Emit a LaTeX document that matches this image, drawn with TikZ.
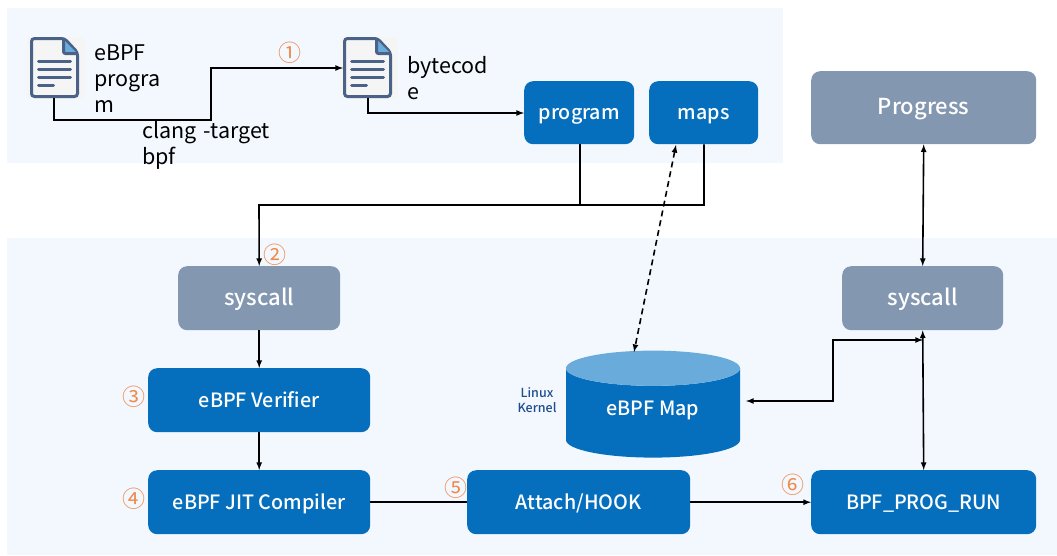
\documentclass[tikz,border=0pt]{standalone}
\usepackage{fontspec}
\setmainfont{Noto Sans CJK SC}
\newfontfamily\medfont{Noto Sans CJK SC Medium}
\usepackage{tikz}
\usetikzlibrary{shapes.geometric}
\definecolor{panelbg}{HTML}{F3F8FF}
\definecolor{boxblue}{HTML}{056FBE}
\definecolor{boxgrey}{HTML}{8497B0}
\definecolor{captop}{HTML}{69ABDB}
\definecolor{numorange}{HTML}{EF8A4C}
\definecolor{kernelblue}{HTML}{1F4E8C}
\definecolor{docline}{HTML}{4A6288}
\tikzset{
    panel/.style={fill=panelbg,draw=none},
    bluebox/.style={fill=boxblue,rounded corners=9pt,text=white,font=\medfont\fontsize{19.7}{22}\selectfont,anchor=north west,inner sep=0pt,text height=14pt,text depth=0pt},
    greybox/.style={bluebox,fill=boxgrey,font=\medfont\fontsize{22}{24}\selectfont},
    wrapped/.style={anchor=north west,align=left,inner sep=0pt,font=\fontsize{21.5}{26}\selectfont},
    stepnum/.style={text=numorange,inner sep=0pt,font=\fontsize{23}{24}\selectfont},
    link/.style={draw=black,line width=1.6pt,>=latex},
    docnode/.style={minimum width=49pt,minimum height=61pt,inner sep=0pt,outer sep=0pt},
    docicon/.pic={
        \fill[black!4] (-28,-31) rectangle (30,31);
        \draw[docline,line width=3pt,fill=black!4,rounded corners=3pt] (-23,-29) -- (10,-29) -- (23,-15) -- (23,29) -- (-23,29) -- cycle;
        \fill[captop] (9,-28) -- (22,-15) -- (9,-15) -- cycle;
        \draw[docline,line width=3pt,rounded corners=2pt] (9,-29) -- (9,-14) -- (23,-14);
        \draw[docline,line width=3pt,line cap=round] (-16,-6) -- (16,-6) (-16,2) -- (16,2) (-16,10) -- (16,10) (-16,18) -- (-1,18);
    },
}
\begin{document}
\begin{tikzpicture}[x=1pt,y=-1pt]
    \useasboundingbox (0,0) rectangle (1057,555);
    \fill[panel] (7,8) rectangle (783,163);
    \fill[panel] (7,238) rectangle (1057,555);

    \node[docnode] (srcdoc) at (54.5,67.5) {};
    \node[docnode] (bytedoc) at (367.5,67.5) {};
    \pic at (srcdoc) {docicon};
    \pic at (bytedoc) {docicon};

    \node[wrapped,text width=70pt] (srctext) at (94,45) {eBPF\\progra\\m};
    \node[wrapped,text width=85pt] (bytetext) at (407,56) {bytecod\\e};
    \node[wrapped,text width=130pt] (clangtext) at (142,121) {clang -target\\bpf};

    \node[bluebox,minimum width=110pt,minimum height=63pt] (program) at (524,81) {program};
    \node[bluebox,minimum width=109pt,minimum height=63pt] (maps) at (649,81) {maps};
    \node[greybox,minimum width=225pt,minimum height=73pt] (progress) at (811,71) {Progress};
    \node[greybox,minimum width=162pt,minimum height=64pt] (syscallL) at (178,266) {syscall};
    \node[greybox,minimum width=161pt,minimum height=64pt] (syscallR) at (842,266) {syscall};
    \node[bluebox,minimum width=222pt,minimum height=64pt] (verifier) at (148,368) {eBPF Verifier};
    \node[bluebox,minimum width=222pt,minimum height=64pt] (jit) at (148,470) {eBPF JIT Compiler};
    \node[bluebox,minimum width=223pt,minimum height=64pt] (attach) at (467,470) {Attach/HOOK};
    \node[bluebox,minimum width=225pt,minimum height=64pt] (run) at (811,470) {BPF\_PROG\_RUN};

    \node[cylinder,shape border rotate=90,aspect=0.38,cylinder uses custom fill,cylinder body fill=boxblue,cylinder end fill=captop,minimum width=174pt,minimum height=107pt,inner sep=0pt,outer sep=0pt,text=white,text height=4pt,text depth=0pt,font=\medfont\fontsize{19.7}{22}\selectfont] (bpfmap) at (653,413) {eBPF Map};
    \node[text=kernelblue,align=center,inner sep=0pt,font=\medfont\fontsize{12.5}{15}\selectfont] (kernel) at (537,400) {Linux\\Kernel};

    \node[stepnum] (num1) at (290,53) {①};
    \node[stepnum] (num2) at (275,255) {②};
    \node[stepnum] (num3) at (134,397) {③};
    \node[stepnum] (num4) at (134,499) {④};
    \node[stepnum] (num5) at (456,488) {⑤};
    \node[stepnum] (num6) at (793,485) {⑥};

    \coordinate (busjoin) at (259,205);
    \coordinate (progdrop) at (580,205);
    \coordinate (mapdrop) at (704,205);
    \coordinate (mapturn) at (833,340);
    \coordinate (sysjoin) at (923,340);

    \draw[link,->] (54,98) -- (54,120) -- (211,120) -- (211,68) -- (bytedoc.west |- 0,68);
    \draw[link,->] (368,98) -- (368,113) -- (program.west |- 0,113);
    \draw[link] (program.south -| progdrop) -- (progdrop);
    \draw[link,->] (maps.south -| mapdrop) -- (mapdrop) -- (busjoin) -- (syscallL.north);
    \draw[link,<->,dash pattern=on 6pt off 4pt] (676,145) -- (634,352);
    \draw[link,->] (syscallL) -- (verifier);
    \draw[link,->] (verifier) -- (jit);
    \draw[link] (jit) -- (attach);
    \draw[link,->] (attach) -- (run);
    \draw[link,<->] (progress.south) -- (syscallR.north);
    \draw[link,<->] (syscallR.south) -- (run.north);
    \draw[link,<->] (bpfmap.east |- 0,401) ++(6,0) -- (833,401) -- (mapturn) -- (sysjoin);
\end{tikzpicture}
\end{document}
